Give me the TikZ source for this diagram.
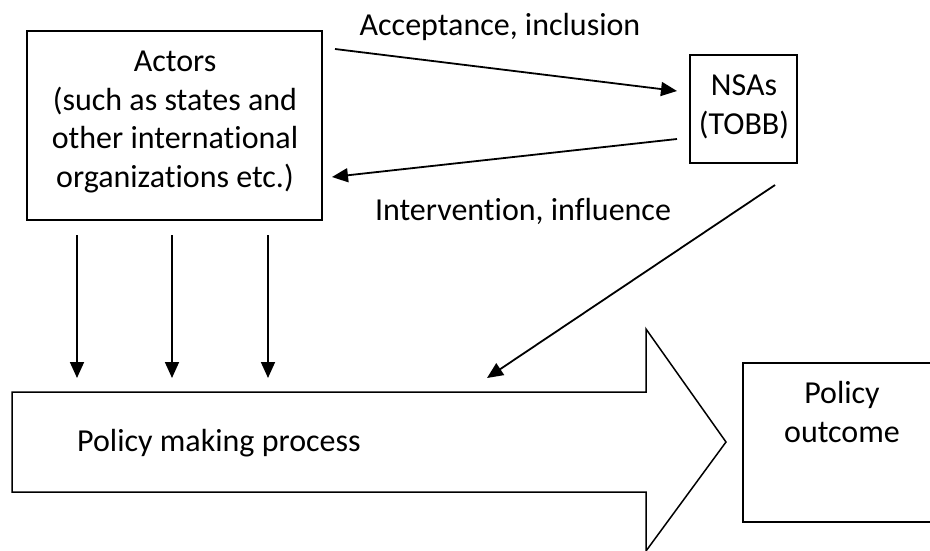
\documentclass[tikz,border=0pt]{standalone}
\usepackage{fontspec}
\setmainfont{Carlito}[Ligatures={NoCommon,NoRequired}]
\usetikzlibrary{arrows.meta}
\begin{document}
\begin{tikzpicture}[x=1pt,y=-1pt,
  every node/.style={font=\fontsize{32}{38.5}\selectfont},
  box/.style={draw,line width=1.8pt,align=center,inner sep=0pt},
  conn/.style={line width=1.8pt,-{Triangle[length=16pt,width=14pt]}},
  shape line/.style={line width=1.5pt}]
\useasboundingbox (0,0) rectangle (930,551);
% boxes
\node[box,minimum width=295,minimum height=189] (actors) at (174.5,125.5) {};
\node[align=center] (actorstext) at (175,122) {Actors\\(such as states and\\other international\\organizations etc.)};
\node[box,minimum width=107,minimum height=108] (nsas) at (743.5,109) {};
\node[align=center] (nsastext) at (744,107) {NSAs\\(TOBB)};
\node[box,minimum width=200,minimum height=159,anchor=north west] (outcome) at (742,362) {};
\node[align=center,anchor=north] (outcometext) at (842,378) {Policy\\outcome};
% big arrow
\coordinate (a1) at (12,392);
\coordinate (a2) at (646,392);
\coordinate (a3) at (646,329);
\coordinate (tip) at (726,442);
\coordinate (a5) at (646,551);
\coordinate (a6) at (646,492);
\coordinate (a7) at (12,492);
\draw[shape line,line join=miter] (a1) -- (a2) -- (a3) -- (tip) -- (a5) -- (a6) -- (a7) -- cycle;
\node[anchor=west,inner sep=0pt] (process) at (77,443) {Policy making process};
% connectors
\coordinate (accS) at (335,49);
\coordinate (accE) at (677,91);
\draw[conn] (accS) -- (accE);
\node (acclabel) at (500,27) {Acceptance, inclusion};
\coordinate (intS) at (677,139);
\coordinate (intE) at (332,177);
\draw[conn] (intS) -- (intE);
\node (intlabel) at (523,211) {Intervention, influence};
\coordinate (nsaS) at (775,185);
\coordinate (procin) at (487,378);
\draw[conn] (nsaS) -- (procin);
\foreach \x [count=\i] in {77,172,268}{
  \coordinate (v\i s) at (\x,235);
  \coordinate (v\i e) at (\x,378);
  \draw[conn] (v\i s) -- (v\i e);
}
\end{tikzpicture}
\end{document}
